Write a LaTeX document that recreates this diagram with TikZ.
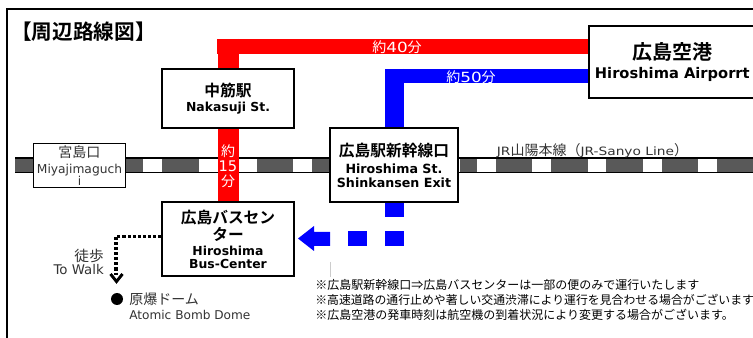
\documentclass[tikz,border=0pt]{standalone}
\usepackage{graphicx}
\usepackage{fontspec}
\setmainfont{DejaVu Sans}
\newfontfamily\cjk{Noto Sans CJK JP}[BoldFont={Noto Sans CJK JP Bold}]
\definecolor{railgray}{gray}{0.35}
\definecolor{softtext}{gray}{0.2}
\tikzset{
  x=0.75pt,y=-0.75pt,
  stationbox/.style={draw=black,line width=1.5pt,fill=white,inner sep=0pt,align=center,text=black},
  minorbox/.style={draw=black,line width=0.6pt,fill=white,inner sep=0pt,align=center,text=softtext},
  railblock/.style={fill=railgray,draw=none},
  railedge/.style={draw=black,line width=0.8pt},
  redline/.style={draw=red,line width=15.75pt},
  redhoriz/.style={draw=red,line width=11.25pt},
  blueline/.style={draw=blue,line width=14.25pt},
  bluehoriz/.style={draw=blue,line width=10.5pt},
  label/.style={inner sep=0pt,align=center,text=softtext},
  whitelabel/.style={inner sep=0pt,align=center,text=white},
  walk/.style={draw=black,line width=2.3pt,dash pattern=on 2.3pt off 1.5pt},
}
\newcommand{\jab}[2]{{\cjk\bfseries\fontsize{#1}{#1}\selectfont #2}}
\newcommand{\jan}[2]{{\cjk\fontsize{#1}{#1}\selectfont #2}}
\newcommand{\enb}[2]{{\bfseries\fontsize{#1}{#1}\selectfont #2}}
\newcommand{\enn}[2]{{\fontsize{#1}{#1}\selectfont #2}}
\newcommand{\wide}[1]{\scalebox{1.2}[1]{#1}}
\begin{document}
\begin{tikzpicture}
\useasboundingbox (0,0) rectangle (753,338);
\fill[white] (0,0) rectangle (753,338);
% frame
\draw[black,line width=0.8pt] (7,338) -- (7,9) -- (753,9);
\node[inner sep=0pt,anchor=west] (title) at (11,31.5) {\jab{15.5pt}{【周辺路線図】}};
% railway
\foreach \a/\b in {15/33,125/143,162/199,257/293,312/349,460/477,496/532,551/588,606/643,662/698,717/753}
  \fill[railblock] (\a,158) rectangle (\b,172);
\draw[railedge] (15,158) -- (753,158);
\draw[railedge] (15,172.5) -- (753,172.5);
% stations
\node[stationbox,minimum width=99pt,minimum height=44pt] (naka) at (228,98.5)
  {\jab{11.8pt}{中筋駅}\\[-0.75pt]\enb{9.3pt}{Nakasuji St.}};
\node[stationbox,minimum width=125pt,minimum height=54pt,anchor=north west] (air) at (588,25)
  {\jab{15pt}{広島空港}\\[2.25pt]\enb{11pt}{Hiroshima Airporrt}};
\node[stationbox,minimum width=96.5pt,minimum height=55pt] (shin) at (394,165)
  {\jab{11.8pt}{広島駅新幹線口}\\[0.75pt]\enb{9.5pt}{Hiroshima St.}\\[-1.5pt]\enb{9.5pt}{Shinkansen Exit}};
\node[stationbox,minimum width=99pt,minimum height=55pt] (bus) at (228,239)
  {\jab{11.8pt}{広島バスセン}\\[0.75pt]\jab{11.8pt}{ター}\\[-0.75pt]\enb{9.3pt}{Hiroshima}\\[-2.25pt]\enb{9.3pt}{Bus-Center}};
\node[minorbox,minimum width=69pt,minimum height=33.5pt] (miya) at (79.5,165.5)
  {\jan{10.5pt}{宮島口}\\[0pt]\enn{9.2pt}{Miyajimaguch}\\[-3pt]\enn{9.2pt}{i}};
\coordinate (airred) at (air.west |- 0,46.5);
\coordinate (airblue) at (air.west |- 0,76);
\coordinate (redcorner) at (217,46.5);
\coordinate (redtop) at (naka.north |- 0,39);
\coordinate (bluecorner) at (385,76);
\coordinate (bluetop) at (394.5,69);
\coordinate (dome) at (117,299);
\coordinate (arrtip) at (298,238.5);
\coordinate (walkcorner) at (116,236.5);
% connectors
\draw[redhoriz] (airred) -- (redcorner);
\draw[redline] (redtop) -- (naka.north);
\draw[redline] (naka.south) -- (bus.north);
\draw[bluehoriz] (airblue) -- (bluecorner);
\draw[blueline] (bluetop) -- (bluetop |- shin.north);
% dashed blue
\fill[blue] (385,203) rectangle (404,217);
\fill[blue] (385,231) rectangle (404,246);
\fill[blue] (348,231) rectangle (367,246);
\fill[blue] (arrtip) -- (314,226) -- (314,232) -- (330,232) -- (330,246) -- (314,246) -- (314,251) -- cycle;
% labels
\node[whitelabel] (t40) at (397,47.5) {\jan{10.5pt}{約}\wide{\enn{10.5pt}{40}}\jan{10.5pt}{分}};
\node[whitelabel] (t50) at (471,77) {\jan{10.5pt}{約}\wide{\enn{10.5pt}{50}}\jan{10.5pt}{分}};
\node[whitelabel] (t15) at (228,166.5) {\jan{10.5pt}{約}\\[-0.75pt]\enn{11pt}{15}\\[-0.75pt]\jan{10.5pt}{分}};
\node[label] (jr) at (592.5,151) {\wide{\enn{8.6pt}{JR}}\jan{10.5pt}{山陽本線（}\wide{\enn{8.6pt}{JR-Sanyo Line}}\jan{10.5pt}{）}};
% walking route
\draw[walk] (bus.west |- walkcorner) -- (walkcorner) -- (walkcorner |- 0,275);
\draw[black,line width=2.2pt] (110.5,274) -- (116.5,281.5) -- (122.5,274);
\node[label,anchor=east] (walklab) at (104,256) {\jan{11pt}{徒歩}};
\node[label,anchor=east] (walken) at (104,270) {\enn{10pt}{To Walk}};
\fill[black] (dome) circle (4.5pt);
\node[label,anchor=west] (domejp) at (129,299) {\jan{10.5pt}{原爆ドーム}};
\node[label,anchor=west] (domeen) at (129,315) {\enn{9.1pt}{Atomic Bomb Dome}};
% notes
\draw[gray!40,line width=0.5pt] (330,262) -- (330,277);
\node[label,anchor=west,text=black] (n1) at (315,285) {\jan{9pt}{※広島駅新幹線口⇒広島バスセンターは一部の便のみで運行いたします}};
\node[label,anchor=west,text=black] (n2) at (315,300) {\jan{8.9pt}{※高速道路の通行止めや著しい交通渋滞により運行を見合わせる場合がございます}};
\node[label,anchor=west,text=black] (n3) at (315,314.5) {\jan{9pt}{※広島空港の発車時刻は航空機の到着状況により変更する場合がございます。}};
\end{tikzpicture}
\end{document}
